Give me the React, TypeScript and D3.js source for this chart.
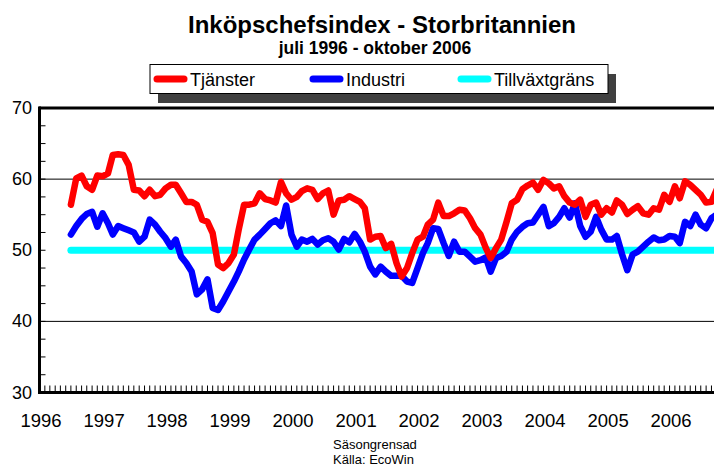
import React from 'react';
import * as d3 from 'd3';

const title = 'Inköpschefsindex - Storbritannien';
const subtitle = 'juli 1996 - oktober 2006';
const seriesNames = ['Tjänster', 'Industri', 'Tillväxtgräns'];
const seriesColors = ['#ff0000', '#0000ff', '#00ffff'];
const yearLabels = ['1996', '1997', '1998', '1999', '2000', '2001', '2002', '2003', '2004', '2005', '2006'];
const yTicks = [30, 40, 50, 60, 70];
const gridValues = [40, 60];
const growthLimit = 50;
const notes = ['Säsongrensad', 'Källa: EcoWin'];

// monthly, juli 1996 - oktober 2006
const tjanster = [
  56.4, 60.1, 60.5, 59.0, 58.5, 60.5,
  60.4, 60.8, 63.4, 63.5, 63.4, 62.0, 58.5, 58.4, 57.6, 58.5, 57.6, 57.8,
  58.7, 59.2, 59.2, 58.0, 56.8, 56.8, 56.4, 54.3, 54.0, 52.4, 48.0, 47.5,
  48.2, 49.4, 52.9, 56.4, 56.4, 56.6, 58.0, 57.2, 57.0, 56.7, 59.6, 58.0,
  57.1, 57.5, 58.3, 58.7, 58.5, 57.2, 58.0, 58.4, 55.0, 57.0, 57.1, 57.6,
  57.2, 56.8, 55.9, 51.5, 51.9, 52.0, 50.3, 50.9, 48.2, 46.3, 47.5, 49.6,
  51.5, 51.9, 53.6, 54.3, 56.7, 54.8, 54.8, 55.2, 55.7, 55.6, 54.5, 53.1,
  52.2, 50.3, 48.9, 50.3, 51.5, 54.0, 56.6, 57.1, 58.6, 59.1, 59.5, 58.5,
  59.9, 59.4, 58.7, 59.0, 57.6, 56.7, 56.4, 57.1, 54.7, 56.4, 56.7, 55.0,
  55.9, 55.3, 57.0, 56.4, 55.1, 55.7, 56.2, 55.2, 55.0, 55.9, 55.7, 57.8,
  56.8, 59.0, 57.3, 59.7, 59.2, 58.5, 57.8, 56.7, 56.8, 58.5
];

const industri = [
  52.2, 53.4, 54.4, 55.1, 55.4, 53.3,
  55.2, 53.8, 52.2, 53.4, 53.1, 52.8, 52.5, 51.2, 51.9, 54.3, 53.6, 52.6,
  51.7, 50.5, 51.5, 49.1, 48.2, 47.0, 43.8, 44.5, 45.9, 41.9, 41.6, 42.8,
  44.2, 45.6, 47.0, 48.7, 50.1, 51.5, 52.2, 53.0, 53.8, 54.2, 53.4, 56.3,
  52.2, 50.5, 51.5, 51.2, 51.6, 50.8, 51.4, 51.7, 51.2, 50.1, 51.6, 51.1,
  52.3, 51.2, 49.8, 47.7, 46.6, 47.7, 47.0, 46.4, 46.4, 46.4, 45.6, 45.4,
  47.5, 49.6, 51.0, 53.1, 53.0, 51.0, 49.2, 51.2, 49.8, 49.8, 49.1, 48.4,
  48.6, 49.0, 47.0, 48.9, 49.2, 49.8, 51.5, 52.6, 53.3, 53.8, 53.9, 55.0,
  56.1, 53.4, 53.8, 54.7, 55.9, 54.6, 56.6, 53.4, 51.9, 52.6, 54.7, 52.9,
  51.5, 51.5, 52.0, 49.4, 47.2, 49.4, 49.8, 50.5, 51.2, 51.8, 51.4, 51.5,
  52.0, 51.9, 51.0, 54.0, 53.4, 55.0, 53.6, 53.1, 54.5, 55.0
];

const months = d3.timeMonth.range(new Date(1996, 6, 1), new Date(2006, 10, 1));

const W = 714;
const H = 467;
const left = 39.5;
const top = 108;
const bottom = 392.5;
const font = 'Arial, "Liberation Sans", sans-serif';

export default function App() {
  const x = d3
    .scaleTime()
    .domain([new Date(1996, 0, 1), new Date(2007, 0, 1)])
    .range([left, left + 11 * 63]);

  const y = d3.scaleLinear().domain([30, 70]).range([bottom, top]);

  const line = d3
    .line<number>()
    .x((d, i) => x(months[i]))
    .y(d => y(d));

  const limit = months.map(() => growthLimit);
  const monthTicks = d3.timeMonth.range(new Date(1996, 0, 1), new Date(2007, 0, 1)).filter(d => x(d) < W);
  const minorY = d3.range(30, 70.01, 2.5);

  const legendItems = [
    { name: seriesNames[0], color: seriesColors[0], x: 157 },
    { name: seriesNames[1], color: seriesColors[1], x: 313 },
    { name: seriesNames[2], color: seriesColors[2], x: 461 }
  ];

  return (
    <svg width={W} height={H} style={{ position: 'absolute', left: 0, top: 0, background: '#fff' }} fontFamily={font}>
      <defs>
        <clipPath id="plot">
          <rect x={left} y={top - 5} width={W - left} height={bottom - top + 10} />
        </clipPath>
      </defs>

      <text x={382} y={33} textAnchor="middle" fontSize={24} fontWeight="bold">{title}</text>
      <text x={375} y={53.5} textAnchor="middle" fontSize={17.5} fontWeight="bold">{subtitle}</text>

      {/* legend */}
      <rect x={158} y={74} width={458} height={29} fill="#404040" />
      <rect x={150} y={64.5} width={458} height={29} fill="#fff" stroke="#000" strokeWidth={1} />
      {legendItems.map(d => (
        <g key={d.name}>
          <line x1={d.x} x2={d.x + 27} y1={79} y2={79} stroke={d.color} strokeWidth={7} strokeLinecap="round" />
          <text x={d.x + 33} y={86} fontSize={18}>{d.name}</text>
        </g>
      ))}

      {/* grid */}
      {gridValues.map(v => (
        <line key={v} x1={left} x2={W} y1={y(v)} y2={y(v)} stroke="#000" strokeWidth={1} />
      ))}

      {/* y ticks */}
      {minorY.map(v => (
        <line key={v} x1={left} x2={left + 6} y1={y(v)} y2={y(v)} stroke="#000" strokeWidth={1} />
      ))}
      {yTicks.map(v => (
        <text key={v} x={32} y={y(v) + 6} textAnchor="end" fontSize={18}>{v}</text>
      ))}

      {/* x ticks */}
      {monthTicks.map(d => (
        <line key={+d} x1={x(d)} x2={x(d)} y1={bottom} y2={bottom - 7} stroke="#000" strokeWidth={1} />
      ))}
      {yearLabels.map(t => (
        <text key={t} x={x(new Date(+t, 0, 1)) + 1.5} y={427} textAnchor="middle" fontSize={18.5}>{t}</text>
      ))}

      {/* series */}
      <g clipPath="url(#plot)" fill="none" strokeLinejoin="round" strokeLinecap="round">
        <path d={line(limit) || ''} stroke={seriesColors[2]} strokeWidth={7} />
        <path d={line(industri) || ''} stroke={seriesColors[1]} strokeWidth={6.5} />
        <path d={line(tjanster) || ''} stroke={seriesColors[0]} strokeWidth={6.5} />
      </g>

      {/* frame */}
      <line x1={left - 0.5} x2={W} y1={top} y2={top} stroke="#000" strokeWidth={3} />
      <line x1={left} x2={left} y1={top - 1.5} y2={bottom + 1.5} stroke="#000" strokeWidth={3} />
      <line x1={left - 1.5} x2={W} y1={bottom} y2={bottom} stroke="#000" strokeWidth={3} />

      {notes.map((n, i) => (
        <text key={n} x={333} y={449 + i * 15} fontSize={13}>{n}</text>
      ))}
    </svg>
  );
}
